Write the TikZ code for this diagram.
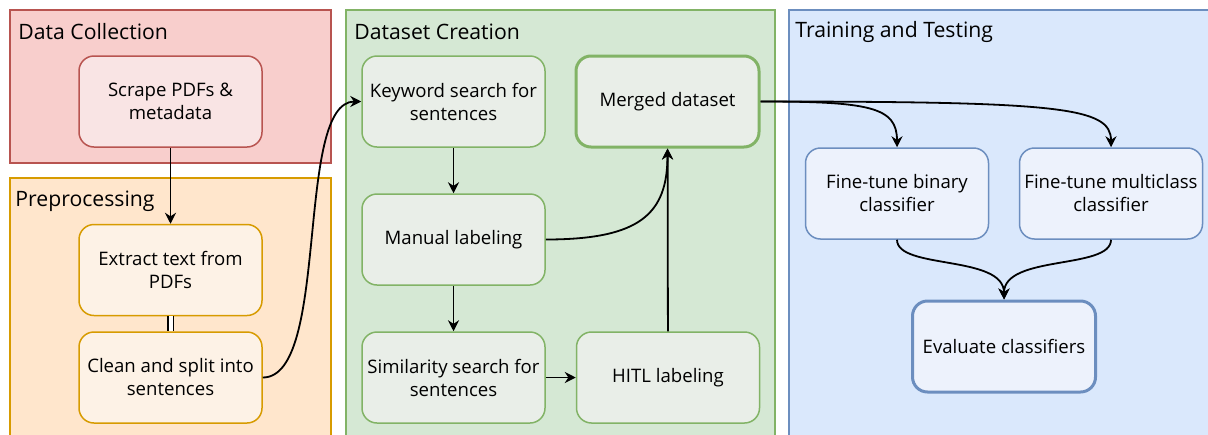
\documentclass[tikz,border=0pt]{standalone}
\usepackage{fontspec}
\setmainfont{Open Sans}
\usetikzlibrary{arrows.meta}

\definecolor{redfill}{HTML}{F8CECC}
\definecolor{reddraw}{HTML}{B85450}
\definecolor{orangefill}{HTML}{FFE6CC}
\definecolor{orangedraw}{HTML}{D79B00}
\definecolor{greenfill}{HTML}{D5E8D4}
\definecolor{greendraw}{HTML}{82B366}
\definecolor{bluefill}{HTML}{DAE8FC}
\definecolor{bluedraw}{HTML}{6C8EBF}
\definecolor{redtask}{RGB}{249,228,228}
\definecolor{orangetask}{RGB}{253,242,230}
\definecolor{greentask}{RGB}{233,238,232}
\definecolor{bluetask}{RGB}{237,242,252}

\tikzset{
    stage/.style={draw, line width=0.75pt},
    stagetitle/.style={anchor=west, inner sep=0pt, font=\fontsize{10.6}{12.5}\selectfont},
    task/.style={draw, line width=0.75pt, rounded corners=7.5pt, align=center,
        minimum width=91.5pt, minimum height=45.5pt, inner sep=2pt,
        font=\fontsize{9.3}{11.5}\selectfont},
    flow/.style={line width=0.9pt, -{Stealth[length=5.5pt, width=5.5pt, inset=1.8pt]}},
}

\begin{document}
\begin{tikzpicture}[x=0.5pt, y=-0.5pt]
    \useasboundingbox (0,0) rectangle (1208,434);

    % stages
    \draw[stage, fill=redfill, draw=reddraw] (10,10) rectangle (331,163);
    \draw[stage, fill=orangefill, draw=orangedraw] (10,178) rectangle (331,440);
    \draw[stage, fill=greenfill, draw=greendraw] (346,10) rectangle (775,440);
    \draw[stage, fill=bluefill, draw=bluedraw] (789,10) rectangle (1215,440);

    \node[stagetitle] (tcollect) at (18,32) {Data Collection};
    \node[stagetitle] (tprep) at (15,201) {Preprocessing};
    \node[stagetitle] (tdata) at (354,32) {Dataset Creation};
    \node[stagetitle] (ttrain) at (795,32) {Training and Testing};

    % tasks
    \node[task, fill=redtask, draw=reddraw] (scrape) at (170.5,101.5) {Scrape PDFs \&\\metadata};
    \node[task, fill=orangetask, draw=orangedraw] (extract) at (170.5,270) {Extract text from\\PDFs};
    \node[task, fill=orangetask, draw=orangedraw] (clean) at (170.5,377.5) {Clean and split into\\sentences};

    \node[task, fill=greentask, draw=greendraw] (keyword) at (453.5,101.5) {Keyword search for\\sentences};
    \node[task, fill=greentask, draw=greendraw, line width=1.5pt] (merged) at (667.5,101.5) {Merged dataset};
    \node[task, fill=greentask, draw=greendraw] (manual) at (453.5,239.5) {Manual labeling};
    \node[task, fill=greentask, draw=greendraw] (similar) at (453.5,377.5) {Similarity search for\\sentences};
    \node[task, fill=greentask, draw=greendraw] (hitl) at (668,377.5) {HITL labeling};

    \node[task, fill=bluetask, draw=bluedraw] (binary) at (897,193.5) {Fine-tune binary\\classifier};
    \node[task, fill=bluetask, draw=bluedraw] (multi) at (1111,193.5) {Fine-tune multiclass\\classifier};
    \node[task, fill=bluetask, draw=bluedraw, line width=1.5pt] (evaluate) at (1004,346.5) {Evaluate classifiers};

    % connectors
    \draw[flow] (scrape) -- (extract);
    \draw[line width=0.8pt, double, double distance=2pt] (extract) -- (clean);
    \draw[flow] (clean.east) .. controls +(68,0) and +(-67,0) .. (keyword.west);
    \draw[flow] (keyword) -- (manual);
    \draw[flow] (manual) -- (similar);
    \draw[flow] (similar) -- (hitl);
    \draw[flow] (hitl) -- (merged);
    \draw[flow] (manual.east) .. controls +(95,0) and +(0,65) .. (merged.south);
    \draw[flow] (merged.east) .. controls +(110,0) and +(0,-40) .. (binary.north);
    \draw[flow] (merged.east) .. controls +(300,0) and +(0,-40) .. (multi.north);
    \draw[flow] (binary.south) .. controls +(0,30) and +(0,-45) .. (evaluate.north);
    \draw[flow] (multi.south) .. controls +(0,30) and +(0,-45) .. (evaluate.north);
\end{tikzpicture}
\end{document}
